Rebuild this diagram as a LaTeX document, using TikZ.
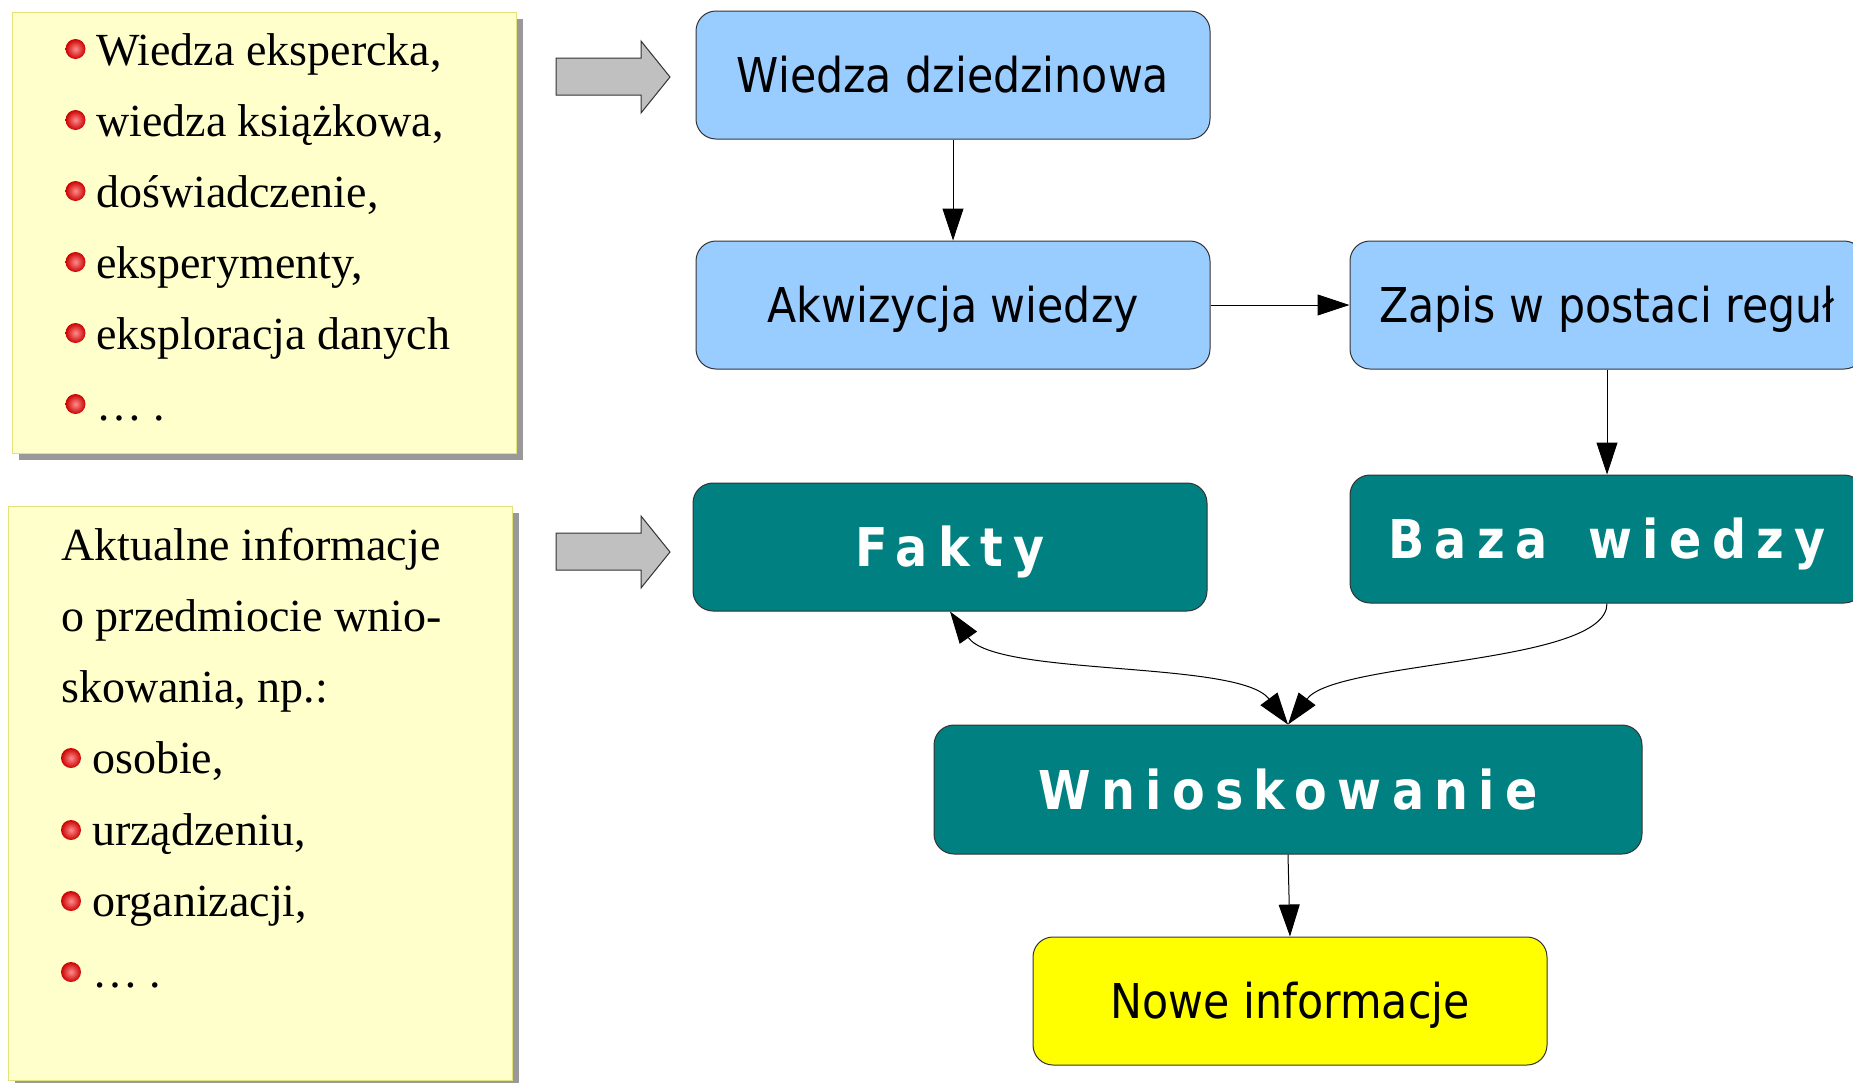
\documentclass[tikz,border=0pt]{standalone}
\usepackage{fontspec}
\setmainfont{Liberation Serif}
\newfontfamily\boxfont[FakeStretch=0.89]{DejaVu Sans}
\newfontfamily\spacedfont[FakeStretch=0.89,LetterSpace=19.4]{DejaVu Sans}
\usetikzlibrary{arrows.meta}
\definecolor{lblue}{HTML}{99CCFF}
\definecolor{tealbg}{HTML}{008080}
\definecolor{paleyellow}{HTML}{FFFFCC}
\definecolor{paleborder}{HTML}{E2E27A}
\definecolor{newyellow}{HTML}{FFFF00}
\definecolor{arrowgray}{HTML}{C0C0C0}
\definecolor{shadowgray}{HTML}{999999}
\definecolor{ballred}{HTML}{E81818}
\tikzset{
  rbox/.style={draw=black!80, line width=1pt, rounded corners=20pt,
    minimum width=514pt, minimum height=128pt, inner sep=0pt,
    text height=35pt, text depth=0pt,
    font=\boxfont\fontsize{48}{48}\selectfont},
  lightbox/.style={rbox, fill=lblue},
  tealbox/.style={rbox, fill=tealbg, text=white, text height=39pt,
    font=\spacedfont\bfseries\fontsize{53.5}{54}\selectfont},
  yellowbox/.style={rbox, fill=newyellow},
  conn/.style={line width=1pt, -{Triangle[length=32pt,width=21pt]}},
  bothconn/.style={line width=1pt, {Triangle[length=32pt,width=21pt]}-{Triangle[length=32pt,width=21pt]}},
  notebox/.style={fill=paleyellow, draw=paleborder, line width=1pt},
  noteshadow/.style={fill=shadowgray},
  item/.style={anchor=base west, inner sep=0pt, font=\fontsize{46}{46}\selectfont},
  bulletball/.style={inner color=red!45!white, outer color=red!80!black},
  blockarrow/.style={fill=arrowgray, draw=black!80, line width=1pt}
}
\begin{document}
\begin{tikzpicture}[x=1pt,y=-1pt]
\useasboundingbox (0,0) rectangle (1853,1082);
\fill[white] (0,0) rectangle (1853,1082);
\clip (0,0) rectangle (1853,1082);

% note box 1
\fill[noteshadow] (19,19) rectangle (523,460);
\draw[notebox] (12,12) rectangle (516,453);
\foreach \y/\t [count=\i] in {65/{Wiedza ekspercka,},136/{wiedza książkowa,},207/{doświadczenie,},278/{eksperymenty,},349/{eksploracja danych},420/{\dots\ .}}{
  \shade[bulletball] (75.5,\y-16) circle (10);
  \node[item] (a\i) at (96,\y) {\t};
}

% note box 2
\fill[noteshadow] (15,513) rectangle (519,1090);
\draw[notebox] (8,506) rectangle (512,1080);
\node[item] (b1) at (61,560) {Aktualne informacje};
\node[item] (b2) at (61,631) {o przedmiocie wnio-};
\node[item] (b3) at (61,702) {skowania, np.:};
\foreach \y/\t [count=\i from 4] in {773/{osobie,},845/{urządzeniu,},916/{organizacji,},987/{\dots\ .}}{
  \shade[bulletball] (71,\y-15) circle (10);
  \node[item] (b\i) at (92,\y) {\t};
}

% block arrows
\draw[blockarrow] (556,58) -- (641,58) -- (641,41) -- (670,77) -- (641,113) -- (641,95) -- (556,95) -- cycle;
\draw[blockarrow] (556,533) -- (641,533) -- (641,516) -- (670,552) -- (641,588) -- (641,570) -- (556,570) -- cycle;

% flow boxes
\node[lightbox] (wd) at (953,75) {Wiedza dziedzinowa};
\node[lightbox] (aw) at (953,305) {Akwizycja wiedzy};
\node[lightbox] (zr) at (1607,305) {Zapis w postaci reguł};
\node[tealbox] (fa) at (950,547) {Fakty};
\node[tealbox] (bw) at (1607,539) {Baza\hspace{14pt} wiedzy};
\node[tealbox, minimum width=708pt, minimum height=129pt] (wn) at (1288,789.5) {Wnioskowanie};
\node[yellowbox] (ni) at (1290,1001) {Nowe informacje};

% connectors
\draw[conn] (wd.south) -- (aw.north);
\draw[conn] (aw.east) -- (zr.west);
\draw[conn] (zr.south) -- (bw.north);
\draw[bothconn] (fa.south) .. controls (996,677) and (1240,660) .. (wn.north);
\draw[conn] (bw.south) .. controls (1607,665) and (1336,660) .. (wn.north);
\draw[conn] (wn.south) -- (ni.north);
\end{tikzpicture}
\end{document}
